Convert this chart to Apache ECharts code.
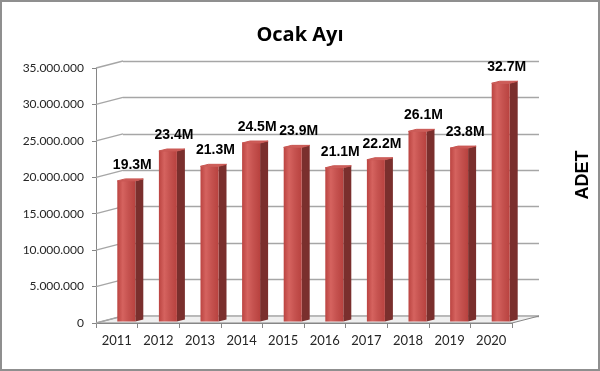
<!DOCTYPE html>
<html>
<head>
<meta charset="utf-8">
<script src="https://cdn.jsdelivr.net/npm/echarts@6/dist/echarts.min.js"></script>
<style>
html,body{margin:0;padding:0;background:#fff;}
#chart{width:600px;height:371px;}
</style>
</head>
<body>
<div id="chart"></div>
<script>
// ---- data ----
const years = ['2011','2012','2013','2014','2015','2016','2017','2018','2019','2020'];
const values = [19300000, 23400000, 21300000, 24500000, 23900000, 21100000, 22200000, 26100000, 23800000, 32700000];
const yTicks = [0, 5000000, 10000000, 15000000, 20000000, 25000000, 30000000, 35000000];
const titleText = 'Ocak Ayı';
const axisTitle = 'ADET';

// ---- styling constants ----
const DX = 27, DY = -7;         // depth offset of back wall
const gridColor = '#a6a6a6';
const axisColor = '#868686';
const labelFont = 'Lato, "Open Sans", sans-serif';

function fmtThousands(v){
  return String(v).replace(/\B(?=(\d{3})+(?!\d))/g, '.');
}

const chart = echarts.init(document.getElementById('chart'), null, {renderer:'canvas'});

const option = {
  backgroundColor: '#fff',
  animation: false,
  title: {
    text: titleText,
    left: 'center',
    top: 20,
    textStyle: {fontFamily: '"Open Sans", sans-serif', fontWeight: 'bold', fontSize: 20, color: '#000'}
  },
  grid: [
    {left: 96, top: 68, width: 416, height: 255},
    {left: 96 + DX, top: 68 + DY, width: 416, height: 255}
  ],
  xAxis: [
    {
      type: 'category', gridIndex: 0, data: years,
      axisLine: {show: true, lineStyle: {color: axisColor, width: 1}},
      axisTick: {show: true, length: 5, interval: 0, lineStyle: {color: axisColor}},
      axisLabel: {margin: 11, fontSize: 13, color: '#262626', fontFamily: labelFont, interval: 0}
    },
    {
      type: 'category', gridIndex: 1, data: years, show: false
    }
  ],
  yAxis: [
    {
      type: 'value', gridIndex: 0, min: 0, max: 35000000, interval: 5000000,
      axisLine: {show: true, lineStyle: {color: axisColor, width: 1}},
      axisTick: {show: true, length: 4, lineStyle: {color: axisColor}},
      splitLine: {show: false},
      axisLabel: {margin: 12, fontSize: 12, color: '#262626', fontFamily: labelFont, formatter: v => fmtThousands(v)}
    },
    {
      type: 'value', gridIndex: 1, min: 0, max: 35000000, interval: 5000000,
      axisLine: {show: false}, axisTick: {show: false}, axisLabel: {show: false},
      splitLine: {show: true, lineStyle: {color: gridColor, width: 1.3}}
    }
  ],
  graphic: [
    {type: 'rect', shape: {x: 1, y: 1, width: 598, height: 369}, style: {fill: null, stroke: '#8f8f8f', lineWidth: 2}, z: 100},
    {type: 'text', x: 583, y: 175, rotation: Math.PI / 2,
     style: {text: axisTitle, align: 'center', verticalAlign: 'middle', textAlign: 'center', textVerticalAlign: 'middle',
             font: 'bold 18px "Liberation Sans", Arial, sans-serif', fill: '#000'}}
  ],
  series: [
    // floor
    {
      type: 'custom', xAxisIndex: 0, yAxisIndex: 0, clip: false, z: 1,
      data: [[0, 0]],
      renderItem: function(params, api){
        const bw = api.size([1, 0])[0];
        const a = api.coord([0, 0]);
        const b = api.coord([years.length - 1, 0]);
        const x0 = a[0] - bw / 2, x1 = b[0] + bw / 2, y = a[1];
        return {
          type: 'polygon',
          shape: {points: [[x0, y], [x1, y], [x1 + DX, y + DY], [x0 + DX, y + DY]]},
          style: {fill: '#efefef', stroke: axisColor, lineWidth: 1}
        };
      }
    },
    // diagonal connectors from front axis to back wall
    {
      type: 'custom', xAxisIndex: 0, yAxisIndex: 0, clip: false, z: 2,
      data: yTicks.map(v => [0, v]),
      renderItem: function(params, api){
        const bw = api.size([1, 0])[0];
        const p = api.coord([0, api.value(1)]);
        const x0 = p[0] - bw / 2;
        return {
          type: 'line',
          shape: {x1: x0, y1: p[1], x2: x0 + DX, y2: p[1] + DY},
          style: {stroke: gridColor, lineWidth: 1.3}
        };
      }
    },
    // 3D bars
    {
      type: 'custom', xAxisIndex: 0, yAxisIndex: 0, clip: false, z: 5,
      data: values.map((v, i) => [i, v]),
      renderItem: function(params, api){
        const i = api.value(0), v = api.value(1);
        const c = api.coord([i, v]);
        const b = api.coord([i, 0]);
        const L = c[0] + 0.5;
        const fw = 18, sw = 8, sr = 2;
        const top = c[1] - 1.5, bot = b[1] - 1.5;
        const label = (v / 1e6).toFixed(1) + 'M';
        return {
          type: 'group',
          children: [
            {type: 'polygon',
             shape: {points: [[L + fw, top], [L + fw + sw, top - sr], [L + fw + sw, bot - sr], [L + fw, bot]]},
             style: {fill: '#7a2f2d'}},
            {type: 'rect',
             shape: {x: L, y: top, width: fw, height: bot - top},
             style: {fill: new echarts.graphic.LinearGradient(0, 0, 1, 0, [
               {offset: 0, color: '#bb4441'},
               {offset: 0.3, color: '#d5635f'},
               {offset: 0.6, color: '#c65350'},
               {offset: 1, color: '#b8423f'}
             ])}},
            {type: 'polygon',
             shape: {points: [[L, top], [L + fw, top], [L + fw + sw, top - sr], [L + sw, top - sr]]},
             style: {fill: '#cf5f5b', stroke: '#c85652', lineWidth: 1, lineJoin: 'round'}},
            {type: 'text',
             style: {x: L + 15, y: top - 16, text: label, align: 'center', verticalAlign: 'middle',
                     textAlign: 'center', textVerticalAlign: 'middle',
                     font: 'bold 14px "Liberation Sans", Arial, sans-serif', fill: '#000'}}
          ]
        };
      }
    }
  ]
};
chart.setOption(option);
</script>
</body>
</html>
